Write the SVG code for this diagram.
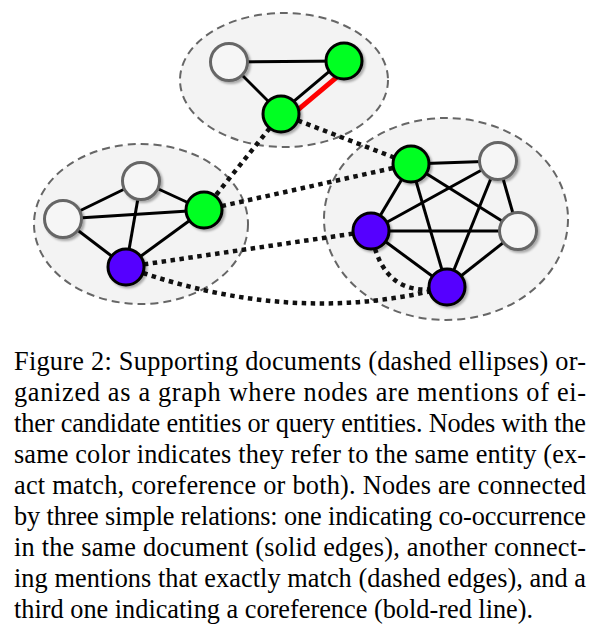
<svg xmlns="http://www.w3.org/2000/svg" width="595" height="636" viewBox="0 0 595 636">
<defs>
<filter id="sh" x="-30%" y="-30%" width="160%" height="160%">
<feDropShadow dx="2" dy="2" stdDeviation="1" flood-color="#000" flood-opacity="0.3"/>
</filter>
<style>
.doc{fill:#f3f3f3;stroke:#666;stroke-width:2;stroke-dasharray:8 5}
.e{stroke:#000;stroke-width:3;fill:none}
.d{stroke:#111;stroke-width:4.5;stroke-dasharray:4.5 4.5;fill:none}
.r{stroke:#ff0000;stroke-width:5;fill:none}
.w{fill:#f6f6f6;stroke:#666;stroke-width:3;filter:url(#sh)}
.g{fill:#00ff22;stroke:#000;stroke-width:3;filter:url(#sh)}
.p{fill:#5500ff;stroke:#000;stroke-width:3;filter:url(#sh)}
.t{font-family:"Liberation Serif","Times New Roman",serif;font-size:26.3px;fill:#000}
</style>
</defs>
<rect width="595" height="636" fill="#fff"/>
<g id="documents">
<ellipse class="doc" cx="141" cy="224" rx="107" ry="80"/>
<ellipse class="doc" cx="446" cy="219" rx="122" ry="101"/>
<ellipse class="doc" cx="284" cy="80" rx="104" ry="67"/>
</g>
<g id="connectors">
<line class="e" x1="229" y1="62" x2="344" y2="61"/>
<line class="e" x1="229" y1="62" x2="281" y2="114"/>
<line class="e" x1="343" y1="59.9" x2="280" y2="112.9"/>
<line class="r" x1="349" y1="66.8" x2="286" y2="119.8"/>
<line class="e" x1="63" y1="219" x2="141" y2="181"/>
<line class="e" x1="63" y1="219" x2="204" y2="210"/>
<line class="e" x1="63" y1="219" x2="126" y2="267"/>
<line class="e" x1="141" y1="181" x2="204" y2="210"/>
<line class="e" x1="141" y1="181" x2="126" y2="267"/>
<line class="e" x1="204" y1="210" x2="126" y2="267"/>
<line class="e" x1="411" y1="164" x2="498" y2="161"/>
<line class="e" x1="411" y1="164" x2="371" y2="231"/>
<line class="e" x1="411" y1="164" x2="518" y2="231"/>
<line class="e" x1="411" y1="164" x2="447" y2="287"/>
<line class="e" x1="498" y1="161" x2="371" y2="231"/>
<line class="e" x1="498" y1="161" x2="518" y2="231"/>
<line class="e" x1="498" y1="161" x2="447" y2="287"/>
<line class="e" x1="371" y1="231" x2="518" y2="231"/>
<line class="e" x1="371" y1="231" x2="447" y2="287"/>
<line class="e" x1="518" y1="231" x2="447" y2="287"/>
<line class="d" x1="281" y1="114" x2="204" y2="210"/>
<line class="d" x1="281" y1="114" x2="411" y2="164"/>
<line class="d" x1="204" y1="210" x2="411" y2="164"/>
<line class="d" x1="126" y1="267" x2="371" y2="231"/>
<path class="d" d="M126,267 Q293,328 447,287"/>
<path class="d" d="M371,231 Q382,302 447,287"/>
</g>
<g id="n-top-white"><circle class="w" cx="229" cy="62" r="18.5"/></g>
<g id="n-top-green1"><circle class="g" cx="344" cy="61" r="18"/></g>
<g id="n-top-green2"><circle class="g" cx="281" cy="114" r="18"/></g>
<g id="n-left-white1"><circle class="w" cx="63" cy="219" r="18.5"/></g>
<g id="n-left-white2"><circle class="w" cx="141" cy="181" r="18.5"/></g>
<g id="n-left-green"><circle class="g" cx="204" cy="210" r="18"/></g>
<g id="n-left-purple"><circle class="p" cx="126" cy="267" r="18"/></g>
<g id="n-right-green"><circle class="g" cx="411" cy="164" r="18"/></g>
<g id="n-right-white1"><circle class="w" cx="498" cy="161" r="18.5"/></g>
<g id="n-right-purple1"><circle class="p" cx="371" cy="231" r="18"/></g>
<g id="n-right-white2"><circle class="w" cx="518" cy="231" r="18.5"/></g>
<g id="n-right-purple2"><circle class="p" cx="447" cy="287" r="18"/></g>
<g id="caption" class="t">
<text x="14" y="370" textLength="572" lengthAdjust="spacing">Figure 2:  Supporting documents (dashed ellipses) or-</text>
<text x="14" y="401" textLength="572" lengthAdjust="spacing">ganized as a graph where nodes are mentions of ei-</text>
<text x="14" y="432" textLength="572" lengthAdjust="spacing">ther candidate entities or query entities. Nodes with the</text>
<text x="14" y="463" textLength="572" lengthAdjust="spacing">same color indicates they refer to the same entity (ex-</text>
<text x="14" y="494" textLength="572" lengthAdjust="spacing">act match, coreference or both).  Nodes are connected</text>
<text x="14" y="525" textLength="572" lengthAdjust="spacing">by three simple relations: one indicating co-occurrence</text>
<text x="14" y="556" textLength="572" lengthAdjust="spacing">in the same document (solid edges), another connect-</text>
<text x="14" y="587" textLength="572" lengthAdjust="spacing">ing mentions that exactly match (dashed edges), and a</text>
<text x="14" y="618">third one indicating a coreference (bold-red line).</text>
</g>
</svg>
